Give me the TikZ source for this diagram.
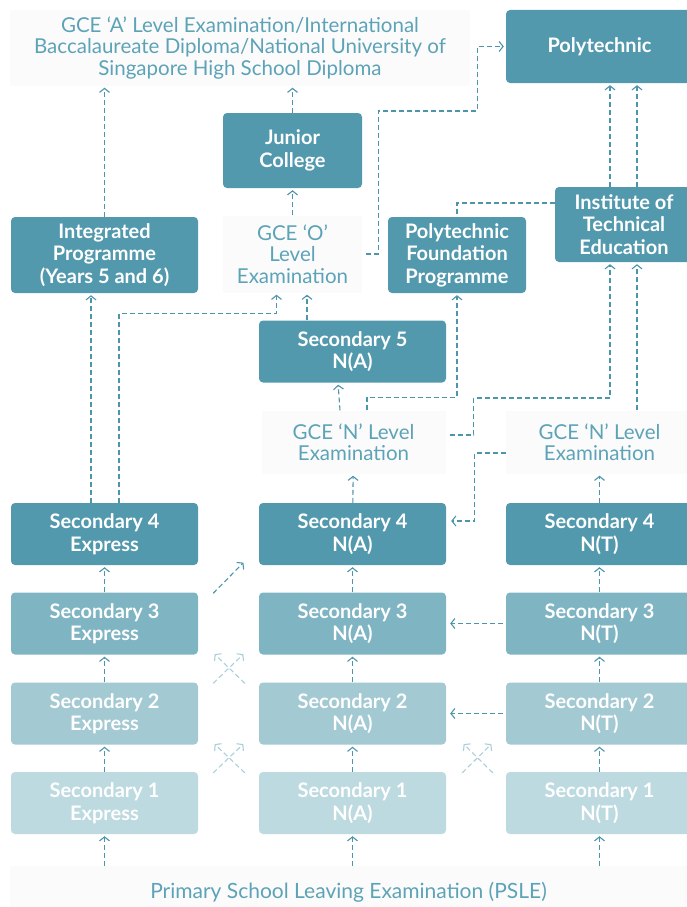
\documentclass[tikz,border=0pt]{standalone}
\usepackage{fontspec}
\setmainfont{Lato}
\usepackage{xcolor}
\usetikzlibrary{arrows.meta,positioning,calc}

\definecolor{boxdark}{HTML}{5299AE}
\definecolor{boxthree}{HTML}{7FB4C3}
\definecolor{boxtwo}{HTML}{A3C9D3}
\definecolor{boxone}{HTML}{BDDAE0}
\definecolor{labtext}{HTML}{5DA3B7}
\definecolor{arrowc}{HTML}{4C95AB}
\definecolor{faintc}{HTML}{ABCFD9}
\definecolor{paleback}{HTML}{FBFBFC}

\newcommand{\bxfont}{\fontsize{20}{22.5}\selectfont\bfseries}
\newcommand{\lbfont}{\fontsize{20.5}{21.5}\selectfont}

\begin{document}
\begin{tikzpicture}[x=1pt,y=-1pt,
  box/.style={rectangle,rounded corners=4pt,fill=boxdark,text=white,font=\bxfont,
    align=center,minimum width=187pt,minimum height=62pt,inner sep=0pt},
  yr3/.style={box,fill=boxthree},
  yr2/.style={box,fill=boxtwo},
  yr1/.style={box,fill=boxone},
  exam/.style={rectangle,fill=paleback,text=labtext,font=\lbfont,align=center,inner sep=0pt},
  arr/.style={draw=arrowc,line width=1.1pt,dash pattern=on 5pt off 3pt,
    -{Straight Barb[length=4pt,width=10pt,line width=1.1pt]},shorten >=2pt},
  faint/.style={arr,draw=faintc}]
\useasboundingbox (0,0) rectangle (687,907);

% exams and destinations
\node[exam,minimum width=460pt,minimum height=75pt] (gcea) at (240,48) {GCE ‘A’ Level Examination/International\\Baccalaureate Diploma/National University of\\Singapore High School Diploma};
\node[box,minimum height=73pt] (poly) at (599.5,46.5) {Polytechnic};
\node[box,minimum width=139pt,minimum height=75pt] (jc) at (292.5,150.5) {Junior\\College};
\node[box,minimum height=76pt] (ip) at (104.5,255) {Integrated\\Programme\\(Years 5 and 6)};
\node[exam,minimum width=139pt,minimum height=77pt] (gceo) at (292.5,254) {GCE ‘O’\\Level\\Examination};
\node[box,minimum width=138pt,minimum height=76pt] (pfp) at (457,255) {Polytechnic\\Foundation\\Programme};
\node[box,minimum width=138pt,minimum height=75pt] (ite) at (624,224.5) {Institute of\\Technical\\Education};
\node[box] (na5) at (352.5,351.5) {Secondary 5\\N(A)};
\node[exam,minimum width=184pt,minimum height=63pt] (gcena) at (353.5,442) {GCE ‘N’ Level\\Examination};
\node[exam,minimum width=187pt,minimum height=63pt] (gcent) at (599.5,442) {GCE ‘N’ Level\\Examination};

% secondary years
\node[box] (ex4) at (104.5,534) {Secondary 4\\Express};
\node[box] (na4) at (352.5,534) {Secondary 4\\N(A)};
\node[box] (nt4) at (599.5,534) {Secondary 4\\N(T)};
\node[yr3] (ex3) at (104.5,623.5) {Secondary 3\\Express};
\node[yr3] (na3) at (352.5,623.5) {Secondary 3\\N(A)};
\node[yr3] (nt3) at (599.5,623.5) {Secondary 3\\N(T)};
\node[yr2] (ex2) at (104.5,713.5) {Secondary 2\\Express};
\node[yr2] (na2) at (352.5,713.5) {Secondary 2\\N(A)};
\node[yr2] (nt2) at (599.5,713.5) {Secondary 2\\N(T)};
\node[yr1] (ex1) at (104.5,803) {Secondary 1\\Express};
\node[yr1] (na1) at (352.5,803) {Secondary 1\\N(A)};
\node[yr1] (nt1) at (599.5,803) {Secondary 1\\N(T)};

\node[exam,font=\fontsize{21}{22}\selectfont,minimum width=677pt,minimum height=52pt] (psle) at (348.5,892) {Primary School Leaving Examination (PSLE)};

% up the columns
\draw[arr] (ex1.south |- psle.north) -- (ex1.south);
\draw[arr] (na1.south |- psle.north) -- (na1.south);
\draw[arr] (nt1.south |- psle.north) -- (nt1.south);
\draw[arr] (ex1) -- (ex2);
\draw[arr] (ex2) -- (ex3);
\draw[arr] (ex3) -- (ex4);
\draw[arr] (na1) -- (na2);
\draw[arr] (na2) -- (na3);
\draw[arr] (na3) -- (na4);
\draw[arr] (nt1) -- (nt2);
\draw[arr] (nt2) -- (nt3);
\draw[arr] (nt3) -- (nt4);
\draw[arr] (na4) -- (gcena);
\draw[arr] (nt4) -- (gcent);

% lateral transfers
\draw[arr] ([xshift=-3pt]nt3.west) -- ([xshift=2pt]na3.east);
\draw[arr] ([xshift=-3pt]nt2.west) -- ([xshift=2pt]na2.east);
\draw[arr] ([xshift=15pt,yshift=-1pt]ex3.north east) -- ([xshift=-14pt,yshift=4pt]na4.south west);
\draw[faint] ([xshift=15pt,yshift=-1pt]ex1.north east) -- ([xshift=-14pt,yshift=2pt]na2.south west);
\draw[faint] ([xshift=-14pt,yshift=-1pt]na1.north west) -- ([xshift=15pt,yshift=2pt]ex2.south east);
\draw[faint] ([xshift=15pt,yshift=-1pt]ex2.north east) -- ([xshift=-14pt,yshift=2pt]na3.south west);
\draw[faint] ([xshift=-14pt,yshift=-1pt]na2.north west) -- ([xshift=15pt,yshift=2pt]ex3.south east);
\draw[faint] ([xshift=16pt,yshift=-1pt]na1.north east) -- ([xshift=-13pt,yshift=2pt]nt2.south west);
\draw[faint] ([xshift=-13pt,yshift=-1pt]nt1.north west) -- ([xshift=16pt,yshift=2pt]na2.south east);

% after secondary 4
\draw[arr] ([xshift=-13.5pt]ex4.north) -- ([xshift=-13.5pt]ip.south);
\draw[arr] ([xshift=14.5pt]ex4.north) -- ++(0,-189) -| ([xshift=-16pt]gceo.south);
\draw[arr] ([xshift=-45.5pt]na5.north) -- ([xshift=-45.5pt]na5.north |- gceo.south);
\draw[arr] ([xshift=-13.5pt]gcena.north) -- ([xshift=-14.5pt]na5.south);
\draw[arr] ([xshift=13.5pt]gcena.north) -- ++(0,-13) -| (pfp.south);
\draw[arr] ([xshift=4pt,yshift=7pt]gcena.east) -- ++(24,0) -- ++(0,-37) -| ([xshift=-14pt]ite.south);
\draw[arr] ([xshift=13pt]ite.south |- gcent.north) -- ([xshift=13pt]ite.south);
\draw[arr] ([yshift=-11pt]gcent.west) -- ++(-31,0) |- ([xshift=3pt,yshift=13pt]na4.east);

% further up
\draw[arr] (gceo) -- (jc);
\draw[arr] (jc.north) -- (jc.north |- gcea.south);
\draw[arr] (ip.north) -- (ip.north |- gcea.south);
\draw[arr] ([xshift=4pt]gceo.east) -- ++(12,0) -- ++(0,-143) -- ++(99,0) |- (poly.west);
\draw[draw=arrowc,line width=1.1pt,dash pattern=on 5pt off 3pt] ([yshift=21.5pt]ite.west) -| (pfp.north);
\draw[arr] ([xshift=-14pt]ite.north) -- ([xshift=-14pt]ite.north |- poly.south);
\draw[arr] ([xshift=13pt]ite.north) -- ([xshift=13pt]ite.north |- poly.south);
\end{tikzpicture}
\end{document}
